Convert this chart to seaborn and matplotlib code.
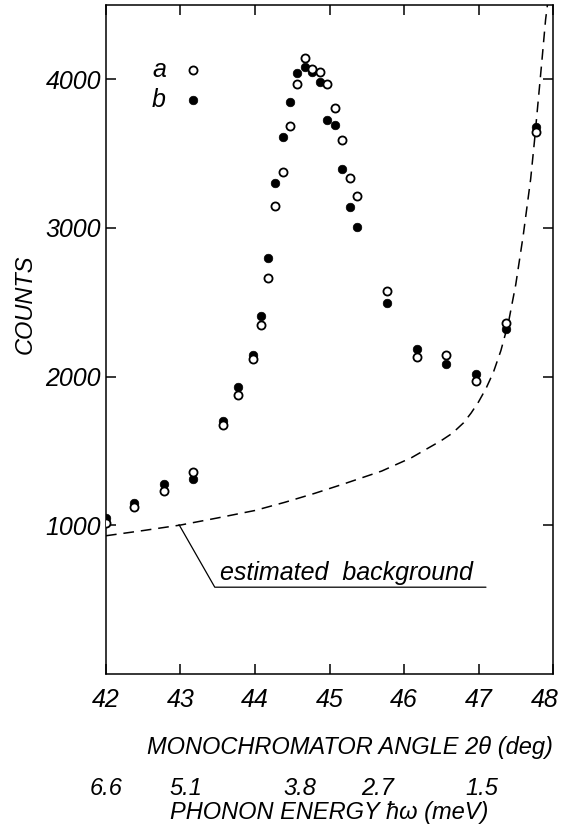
import matplotlib
matplotlib.use("Agg")
import matplotlib.pyplot as plt
import matplotlib.transforms as mtransforms
import seaborn as sns
import pandas as pd

# monochromator angle 2theta (deg) of the measured points
angle = [42.0, 42.37, 42.78, 43.17, 43.57, 43.77, 43.97, 44.08, 44.17, 44.27,
         44.37, 44.47, 44.57, 44.67, 44.77, 44.87, 44.97, 45.08, 45.17, 45.28,
         45.37, 45.77, 46.17, 46.57, 46.97, 47.37, 47.77]
# series a (open circles)
counts_a = [1018, 1121, 1233, 1360, 1678, 1879, 2121, 2349, 2664, 3146,
            3374, 3687, 3971, 4141, 4072, 4052, 3971, 3807, 3591, 3338,
            3217, 2577, 2132, 2148, 1971, 2360, 3646]
# series b (filled circles)
counts_b = [1047, 1148, 1280, 1311, 1700, 1933, 2148, 2409, 2799, 3302,
            3613, 3846, 4042, 4083, 4052, 3982, 3723, 3693, 3396, 3143,
            3005, 2497, 2183, 2083, 2015, 2322, 3680]

# estimated background (dashed)
bg_angle = [42.0, 42.5, 43.0, 43.5, 44.0, 44.4, 44.8, 45.2, 45.7, 46.1,
            46.5, 46.65, 46.8, 46.9, 47.0, 47.1, 47.2, 47.3, 47.4, 47.5,
            47.6, 47.7, 47.75, 47.8, 47.85, 47.9, 47.95]
bg_counts = [930, 965, 1002, 1050, 1100, 1155, 1215, 1280, 1365, 1455,
             1570, 1620, 1690, 1755, 1830, 1920, 2030, 2175, 2360, 2620,
             2950, 3330, 3580, 3850, 4120, 4400, 4600]

# leader line for the "estimated background" note
lead_angle = [42.98, 43.46, 47.10]
lead_counts = [1005, 584, 584]

# phonon energy scale under the angle axis
energy_labels = ["6.6", "5.1", "3.8", "2.7", "1.5"]
energy_angle = [42.0, 43.07, 44.6, 45.65, 47.05]

xticks = [42, 43, 44, 45, 46, 47, 48]
yticks = [1000, 2000, 3000, 4000]

sns.set_theme(style="ticks")
plt.rcParams["font.family"] = ["Liberation Sans", "DejaVu Sans"]
plt.rcParams["font.style"] = "italic"
plt.rcParams["text.color"] = "black"
plt.rcParams["axes.labelcolor"] = "black"
plt.rcParams["axes.edgecolor"] = "black"
plt.rcParams["axes.linewidth"] = 1.1
plt.rcParams["xtick.color"] = "black"
plt.rcParams["ytick.color"] = "black"

FS = 17
TS = 18

fig, ax = plt.subplots(figsize=(5.65, 8.25), dpi=100)
fig.subplots_adjust(left=0.1876, right=0.9788, top=0.994, bottom=0.183)

df = pd.DataFrame({"angle": angle, "a": counts_a, "b": counts_b})
bg = pd.DataFrame({"angle": bg_angle, "counts": bg_counts})

sns.lineplot(data=bg, x="angle", y="counts", ax=ax, sort=False, estimator=None,
             color="black", linewidth=1.1, linestyle=(0, (7, 4.5)))
ax.plot(lead_angle, lead_counts, color="black", linewidth=0.9)

sns.scatterplot(data=df, x="angle", y="b", ax=ax, s=38, color="black",
                edgecolor="black", linewidth=0.5, label="b", zorder=3)
sns.scatterplot(data=df, x="angle", y="a", ax=ax, s=34, facecolor="white",
                edgecolor="black", linewidth=1.3, label="a", zorder=4)

ax.text(43.53, 631, "estimated  background", fontsize=18, va="baseline")

handles, labels = ax.get_legend_handles_labels()
order = [labels.index("a"), labels.index("b")]
ax.legend([handles[i] for i in order], [labels[i] for i in order],
          loc="upper left", bbox_to_anchor=(0.075, 0.94), frameon=False,
          markerfirst=False, handlelength=1.0, handletextpad=0.6,
          labelspacing=0.25, borderpad=0, prop={"size": TS, "style": "italic"})

ax.set_xlim(42, 48)
ax.set_ylim(0, 4500)
ax.set_xticks(xticks)
ax.set_yticks(yticks)
ax.tick_params(direction="in", length=7, width=1.1, top=True, right=True,
               labelsize=TS)
ax.tick_params(axis="x", pad=10)
ax.tick_params(axis="y", pad=3.5)

# last angle label sits slightly left of its tick, inside the figure
last = ax.get_xticklabels()[-1]
last.set_transform(last.get_transform() +
                   mtransforms.ScaledTranslation(-6 / 72, 0, fig.dpi_scale_trans))

ax.set_xlabel("MONOCHROMATOR ANGLE 2θ (deg)", fontsize=FS, loc="right",
              labelpad=17)
ax.set_ylabel("COUNTS", fontsize=FS)
ax.yaxis.set_label_coords(-0.155, 0.552)

sec = ax.secondary_xaxis(-0.147)
sec.set_xticks(energy_angle, labels=energy_labels)
sec.tick_params(length=0, labelsize=FS, pad=3)
sec.spines["bottom"].set_visible(False)
sec.set_xlabel("PHONON ENERGY ħω (meV)", fontsize=FS, labelpad=1)

fig.savefig("out.png", dpi=100)
